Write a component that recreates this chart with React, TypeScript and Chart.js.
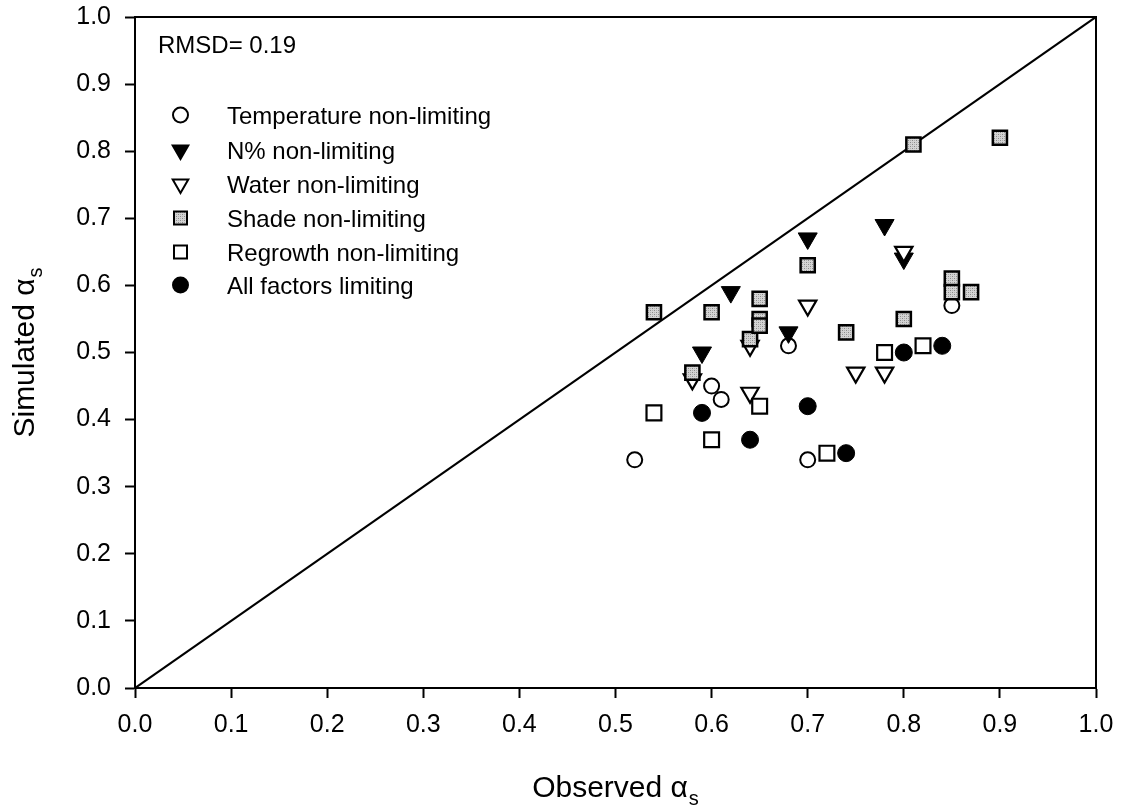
import React, { useEffect, useRef } from "react";
import { Chart, registerables } from "chart.js";

Chart.register(...registerables);

const seriesNames = [
  "Temperature non-limiting",
  "N% non-limiting",
  "Water non-limiting",
  "Shade non-limiting",
  "Regrowth non-limiting",
  "All factors limiting",
];

const tempX = [0.52, 0.6, 0.61, 0.68, 0.7, 0.85];
const tempY = [0.34, 0.45, 0.43, 0.51, 0.34, 0.57];

const nitroX = [0.59, 0.62, 0.68, 0.7, 0.78, 0.8];
const nitroY = [0.5, 0.59, 0.53, 0.67, 0.69, 0.64];

const waterX = [0.58, 0.64, 0.64, 0.7, 0.75, 0.78, 0.8];
const waterY = [0.46, 0.51, 0.44, 0.57, 0.47, 0.47, 0.65];

const shadeX = [0.54, 0.58, 0.6, 0.64, 0.65, 0.65, 0.65, 0.7, 0.74, 0.8, 0.81, 0.85, 0.85, 0.87, 0.9];
const shadeY = [0.56, 0.47, 0.56, 0.52, 0.58, 0.55, 0.54, 0.63, 0.53, 0.55, 0.81, 0.61, 0.59, 0.59, 0.82];

const regrowthX = [0.54, 0.6, 0.65, 0.72, 0.78, 0.82];
const regrowthY = [0.41, 0.37, 0.42, 0.35, 0.5, 0.51];

const allX = [0.59, 0.64, 0.7, 0.74, 0.8, 0.84];
const allY = [0.41, 0.37, 0.42, 0.35, 0.5, 0.51];

const diagX = [0, 1];
const diagY = [0, 1];

const tickValues = [0, 0.1, 0.2, 0.3, 0.4, 0.5, 0.6, 0.7, 0.8, 0.9, 1.0];
const tickLabels = ["0.0", "0.1", "0.2", "0.3", "0.4", "0.5", "0.6", "0.7", "0.8", "0.9", "1.0"];

const rmsdText = "RMSD= 0.19";
const xTitleMain = "Observed α";
const yTitleMain = "Simulated α";
const titleSub = "s";

const FONT = "'Liberation Sans', Arial, Helvetica, sans-serif";

const toPoints = (xs: number[], ys: number[]) => xs.map((x, i) => ({ x, y: ys[i] }));

function makeShadePattern(): CanvasPattern | string {
  const c = document.createElement("canvas");
  c.width = 4;
  c.height = 4;
  const g = c.getContext("2d");
  if (!g) return "#c8c8c8";
  g.fillStyle = "#d4d4d4";
  g.fillRect(0, 0, 4, 4);
  g.fillStyle = "#8a8a8a";
  g.fillRect(0, 0, 1, 1);
  g.fillRect(2, 2, 1, 1);
  g.fillStyle = "#b0b0b0";
  g.fillRect(2, 0, 1, 1);
  g.fillRect(0, 2, 1, 1);
  const p = g.createPattern(c, "repeat");
  return p || "#c8c8c8";
}

type Kind = "openCircle" | "filledDown" | "openDown" | "shadeSquare" | "openSquare" | "filledCircle";
const legendKinds: Kind[] = ["openCircle", "filledDown", "openDown", "shadeSquare", "openSquare", "filledCircle"];

function drawLegendMarker(ctx: CanvasRenderingContext2D, kind: Kind, x: number, y: number, shade: CanvasPattern | string) {
  ctx.save();
  ctx.lineWidth = 2;
  ctx.strokeStyle = "#000";
  ctx.beginPath();
  if (kind === "openCircle" || kind === "filledCircle") {
    ctx.arc(x, y, 7.5, 0, Math.PI * 2);
    ctx.fillStyle = kind === "filledCircle" ? "#000" : "#fff";
    ctx.fill();
    ctx.stroke();
  } else if (kind === "filledDown" || kind === "openDown") {
    const r = 9;
    ctx.moveTo(x, y + r);
    ctx.lineTo(x - r * 0.866, y - r * 0.5);
    ctx.lineTo(x + r * 0.866, y - r * 0.5);
    ctx.closePath();
    ctx.fillStyle = kind === "filledDown" ? "#000" : "#fff";
    ctx.fill();
    ctx.stroke();
  } else {
    const h = 6.5;
    ctx.rect(x - h, y - h, 2 * h, 2 * h);
    ctx.fillStyle = kind === "shadeSquare" ? shade : "#fff";
    ctx.fill();
    ctx.stroke();
  }
  ctx.restore();
}

export default function App() {
  const canvasRef = useRef<HTMLCanvasElement | null>(null);

  useEffect(() => {
    const canvas = canvasRef.current;
    if (!canvas) return;
    const shade = makeShadePattern();

    const common = { showLine: false, borderColor: "#000" };
    const n = seriesNames.length;

    const datasets: any[] = [
      {
        ...common,
        label: seriesNames[0],
        data: toPoints(tempX, tempY),
        pointStyle: "circle",
        pointRadius: 7.5,
        pointBorderWidth: 2,
        backgroundColor: "#fff",
        order: n - 0,
      },
      {
        ...common,
        label: seriesNames[1],
        data: toPoints(nitroX, nitroY),
        pointStyle: "triangle",
        rotation: 180,
        pointRadius: 11,
        pointBorderWidth: 1,
        backgroundColor: "#000",
        order: n - 1,
      },
      {
        ...common,
        label: seriesNames[2],
        data: toPoints(waterX, waterY),
        pointStyle: "triangle",
        rotation: 180,
        pointRadius: 10,
        pointBorderWidth: 2.2,
        backgroundColor: "#fff",
        order: n - 2,
      },
      {
        ...common,
        label: seriesNames[3],
        data: toPoints(shadeX, shadeY),
        pointStyle: "rect",
        pointRadius: 10,
        pointBorderWidth: 2.5,
        backgroundColor: shade,
        order: n - 3,
      },
      {
        ...common,
        label: seriesNames[4],
        data: toPoints(regrowthX, regrowthY),
        pointStyle: "rect",
        pointRadius: 10.5,
        pointBorderWidth: 2.2,
        backgroundColor: "#fff",
        order: n - 4,
      },
      {
        ...common,
        label: seriesNames[5],
        data: toPoints(allX, allY),
        pointStyle: "circle",
        pointRadius: 8.5,
        pointBorderWidth: 1,
        backgroundColor: "#000",
        order: n - 5,
      },
      {
        label: "1:1",
        data: toPoints(diagX, diagY),
        showLine: true,
        borderColor: "#000",
        borderWidth: 2.2,
        pointRadius: 0,
        fill: false,
        order: 100,
      },
    ];

    const decor = {
      id: "decor",
      afterDraw(chart: any) {
        const ctx: CanvasRenderingContext2D = chart.ctx;
        const a = chart.chartArea;
        ctx.save();
        // frame
        ctx.strokeStyle = "#000";
        ctx.lineWidth = 2;
        ctx.strokeRect(a.left, a.top, a.right - a.left, a.bottom - a.top);

        // RMSD
        ctx.fillStyle = "#000";
        ctx.font = `24px ${FONT}`;
        ctx.textAlign = "left";
        ctx.textBaseline = "alphabetic";
        ctx.fillText(rmsdText, 158, 53);

        // legend
        const rowsY = [115, 150, 184, 218, 252, 285];
        seriesNames.forEach((name, i) => {
          drawLegendMarker(ctx, legendKinds[i], 180.5, rowsY[i], shade);
          ctx.fillStyle = "#000";
          ctx.font = `24px ${FONT}`;
          ctx.fillText(name, 227, rowsY[i] + 9);
        });

        // x title
        ctx.font = `30px ${FONT}`;
        const wMain = ctx.measureText(xTitleMain).width;
        ctx.font = `20px ${FONT}`;
        const wSub = ctx.measureText(titleSub).width;
        const cx = (a.left + a.right) / 2;
        const startX = cx - (wMain + wSub + 1) / 2;
        ctx.font = `30px ${FONT}`;
        ctx.fillText(xTitleMain, startX, 797);
        ctx.font = `20px ${FONT}`;
        ctx.fillText(titleSub, startX + wMain + 1, 805);

        // y title
        ctx.translate(34, (a.top + a.bottom) / 2);
        ctx.rotate(-Math.PI / 2);
        ctx.font = `30px ${FONT}`;
        const yMain = ctx.measureText(yTitleMain).width;
        const ys = -(yMain + wSub + 1) / 2;
        ctx.fillText(yTitleMain, ys, 0);
        ctx.font = `20px ${FONT}`;
        ctx.fillText(titleSub, ys + yMain + 1, 8);
        ctx.restore();
      },
    };

    const axis = (isX: boolean) => ({
      type: "linear",
      min: 0,
      max: 1,
      afterBuildTicks: (s: any) => {
        s.ticks = tickValues.map((v) => ({ value: v }));
      },
      afterFit: (s: any) => {
        if (isX) {
          s.height = 120;
          s.paddingLeft = 0;
          s.paddingRight = 0;
        } else {
          s.width = 135;
          s.paddingTop = 0;
          s.paddingBottom = 0;
        }
      },
      ticks: {
        autoSkip: false,
        maxRotation: 0,
        color: "#000",
        padding: isX ? 12 : 14,
        font: { family: FONT, size: 25 },
        callback: (_v: any, i: number) => tickLabels[i],
      },
      grid: {
        display: true,
        drawOnChartArea: false,
        drawTicks: true,
        tickLength: 10,
        tickWidth: 2,
        tickColor: "#000",
      },
      border: { display: true, color: "#000", width: 2 },
    });

    const chart = new Chart(canvas, {
      type: "scatter",
      data: { datasets },
      options: {
        animation: false,
        responsive: false,
        devicePixelRatio: 1,
        layout: { padding: { left: 0, top: 17, right: 30, bottom: 0 } },
        plugins: { legend: { display: false }, tooltip: { enabled: false } },
        scales: { x: axis(true) as any, y: axis(false) as any },
      },
      plugins: [decor],
    });

    return () => chart.destroy();
  }, []);

  return (
    <div style={{ position: "fixed", left: 0, top: 0, width: 1126, height: 808, background: "#fff" }}>
      <canvas ref={canvasRef} width={1126} height={808} style={{ width: 1126, height: 808, display: "block" }} />
    </div>
  );
}
